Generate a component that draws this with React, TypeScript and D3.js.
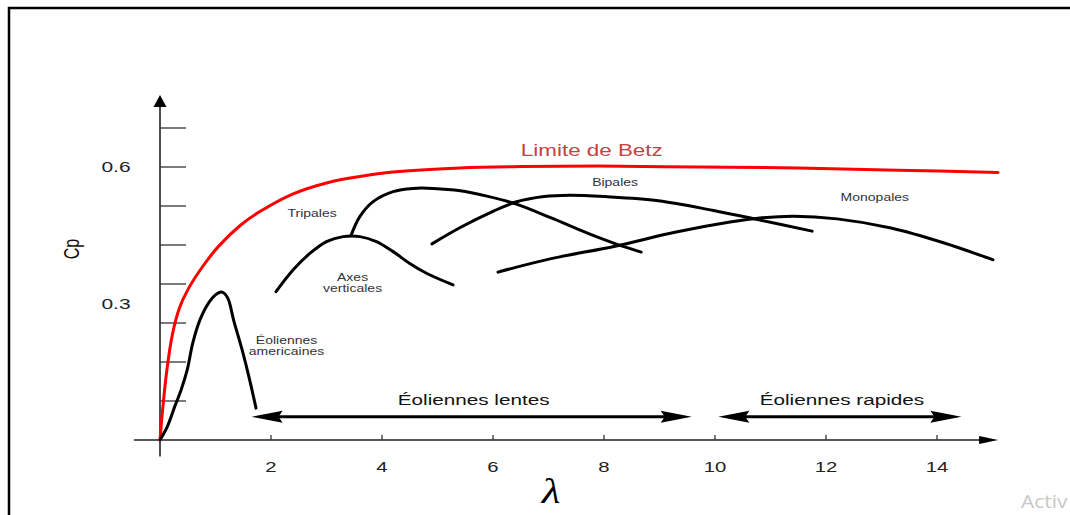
import React from 'react';
import * as d3 from 'd3';

const W = 1070;
const H = 515;

// power coefficient Cp against tip speed ratio lambda
const betz = [[0, 0], [0.05, 0.07], [0.12, 0.15], [0.22, 0.23], [0.35, 0.29], [0.5, 0.33], [0.75, 0.378], [1.05, 0.425], [1.45, 0.472], [1.8, 0.502], [2.4, 0.541], [3.0, 0.565], [3.6, 0.579], [4.2, 0.589], [5.4, 0.598], [6.5, 0.601], [7.9, 0.602], [9.7, 0.6], [11.5, 0.598], [13.3, 0.593], [15.1, 0.588]];
const americaines = [[0, 0], [0.13, 0.029], [0.27, 0.075], [0.38, 0.11], [0.49, 0.154], [0.59, 0.213], [0.72, 0.264], [0.88, 0.302], [1.02, 0.321], [1.12, 0.325], [1.22, 0.312], [1.33, 0.262], [1.48, 0.198], [1.61, 0.135], [1.73, 0.07]];
const axesVerticales = [[2.09, 0.326], [2.4, 0.374], [2.7, 0.41], [3.0, 0.436], [3.3, 0.447], [3.6, 0.447], [3.9, 0.436], [4.2, 0.414], [4.5, 0.388], [4.81, 0.366], [5.28, 0.341]];
const tripales = [[3.44, 0.449], [3.6, 0.491], [3.84, 0.524], [4.2, 0.546], [4.56, 0.553], [4.92, 0.553], [5.41, 0.548], [5.89, 0.536], [6.41, 0.519], [7.05, 0.488], [7.69, 0.455], [8.21, 0.431], [8.67, 0.413]];
const bipales = [[4.9, 0.431], [5.41, 0.467], [6.01, 0.503], [6.41, 0.523], [6.92, 0.535], [7.37, 0.538], [8.02, 0.535], [8.98, 0.526], [9.95, 0.505], [10.79, 0.484], [11.75, 0.459]];
const monopales = [[6.09, 0.369], [7.03, 0.398], [8.2, 0.426], [9.3, 0.457], [10.27, 0.479], [10.81, 0.488], [11.42, 0.492], [12.2, 0.486], [13.17, 0.466], [14.13, 0.433], [15.01, 0.396]];

const xTicks = [2, 4, 6, 8, 10, 12, 14];
const yTickLabels = [0.3, 0.6];
const yTickMarks = [1, 2, 3, 4, 5, 6, 7, 8].map(i => (i * 0.6) / 7);

// speed ranges shown as double arrows
const ranges = [
  { label: 'Éoliennes lentes', from: 1.65, to: 9.58 },
  { label: 'Éoliennes rapides', from: 10.06, to: 14.44 },
];

const blackCurves = [americaines, axesVerticales, tripales, bipales, monopales];

const notes = [
  { lines: ['Tripales'], at: [2.74, 0.49] },
  { lines: ['Axes', 'verticales'], at: [3.47, 0.35] },
  { lines: ['Bipales'], at: [8.2, 0.558] },
  { lines: ['Monopales'], at: [12.88, 0.525] },
  { lines: ['Éoliennes', 'americaines'], at: [2.28, 0.212] },
];

const SX = 1.4; // the source figure is stretched sideways
const SANS = '"Liberation Sans", Arial, sans-serif';

function Txt({ x, y, size, fill = '#333', sx = SX, rot, family = SANS, italic, anchor = 'middle', children }: any) {
  return (
    <text
      transform={`translate(${x},${y}) scale(${sx},1)${rot ? ` rotate(${rot})` : ''}`}
      textAnchor={anchor}
      fontSize={size}
      fill={fill}
      fontFamily={family}
      fontStyle={italic ? 'italic' : 'normal'}
    >
      {children}
    </text>
  );
}

export default function App() {
  const x = d3.scaleLinear().domain([0, 14]).range([160, 937]);
  const y = d3.scaleLinear().domain([0, 0.6]).range([440, 167]);
  const line = d3.line<number[]>()
    .x(d => x(d[0]))
    .y(d => y(d[1]))
    .curve(d3.curveCatmullRom.alpha(0.5));

  const x0 = x(0), y0 = y(0);
  const xEnd = x(15.1), yTop = y(0.758);

  const arrowY = y(0.051);

  return (
    <div style={{ position: 'absolute', left: 0, top: 0 }}>
      <svg width={W} height={H} style={{ display: 'block', background: '#fff' }}>
        {/* frame */}
        <path d={`M9,${H} V8 H${W}`} fill="none" stroke="#000" strokeWidth={2.5} />

        {/* y axis */}
        <line x1={x0} x2={x0} y1={y(-0.036)} y2={yTop + 10} stroke="#222" strokeWidth={1.6} />
        <path d={`M${x0},${yTop} L${x0 - 6.5},${yTop + 12} L${x0 + 6.5},${yTop + 12} Z`} fill="#000" />
        {yTickMarks.map((v, i) => (
          <line key={i} x1={x0} x2={x0 + 26} y1={y(v)} y2={y(v)} stroke="#333" strokeWidth={1.3} />
        ))}
        {yTickLabels.map(v => (
          <Txt key={v} x={116} y={y(v) + 5} size={14} fill="#222" sx={1.5}>{v.toFixed(1)}</Txt>
        ))}
        <Txt x={79} y={249} size={16} fill="#111" rot={-90}>Cp</Txt>

        {/* x axis */}
        <line x1={x(-0.47)} x2={xEnd - 15} y1={y0} y2={y0} stroke="#222" strokeWidth={1.6} />
        <path d={`M${xEnd},${y0} L${xEnd - 19},${y0 - 4} L${xEnd - 19},${y0 + 4} Z`} fill="#000" />
        {xTicks.map(v => (
          <g key={v}>
            <line x1={x(v)} x2={x(v)} y1={y0} y2={y0 - 5} stroke="#333" strokeWidth={1.3} />
            <Txt x={x(v)} y={y0 + 32} size={14} fill="#222" sx={1.45}>{v}</Txt>
          </g>
        ))}
        <Txt x={551} y={503} size={36} fill="#000" sx={1.2} italic family='"Liberation Serif", "DejaVu Serif", serif'>λ</Txt>

        {/* Betz limit */}
        <path d={line(betz) || ''} fill="none" stroke="#ff0000" strokeWidth={3} strokeLinecap="round" />
        <Txt x={x(7.78)} y={y(0.624)} size={16} fill="#c94040">Limite de Betz</Txt>

        {/* rotor families */}
        {blackCurves.map((c, i) => (
          <path key={i} d={line(c) || ''} fill="none" stroke="#000" strokeWidth={3} strokeLinecap="round" />
        ))}
        {notes.map((n, i) => (
          <g key={i}>
            {n.lines.map((t, j) => (
              <Txt key={j} x={x(n.at[0])} y={y(n.at[1]) + j * 11.5} size={10} fill="#333">{t}</Txt>
            ))}
          </g>
        ))}

        {/* speed ranges */}
        {ranges.map(r => {
          const a = x(r.from), b = x(r.to);
          return (
            <g key={r.label}>
              <line x1={a + 20} x2={b - 20} y1={arrowY} y2={arrowY} stroke="#000" strokeWidth={3} />
              <path d={`M${a},${arrowY} L${a + 31},${arrowY - 6} L${a + 27},${arrowY} L${a + 31},${arrowY + 6} Z`} fill="#000" />
              <path d={`M${b},${arrowY} L${b - 31},${arrowY - 6} L${b - 27},${arrowY} L${b - 31},${arrowY + 6} Z`} fill="#000" />
              <Txt x={(a + b) / 2 + 2} y={arrowY - 12} size={15} fill="#111" sx={1.38}>{r.label}</Txt>
            </g>
          );
        })}

        <Txt x={1021} y={508} size={19} fill="#c8c8c8" sx={1.1} anchor="start" family='"Open Sans", sans-serif'>Activ</Txt>
      </svg>
    </div>
  );
}
